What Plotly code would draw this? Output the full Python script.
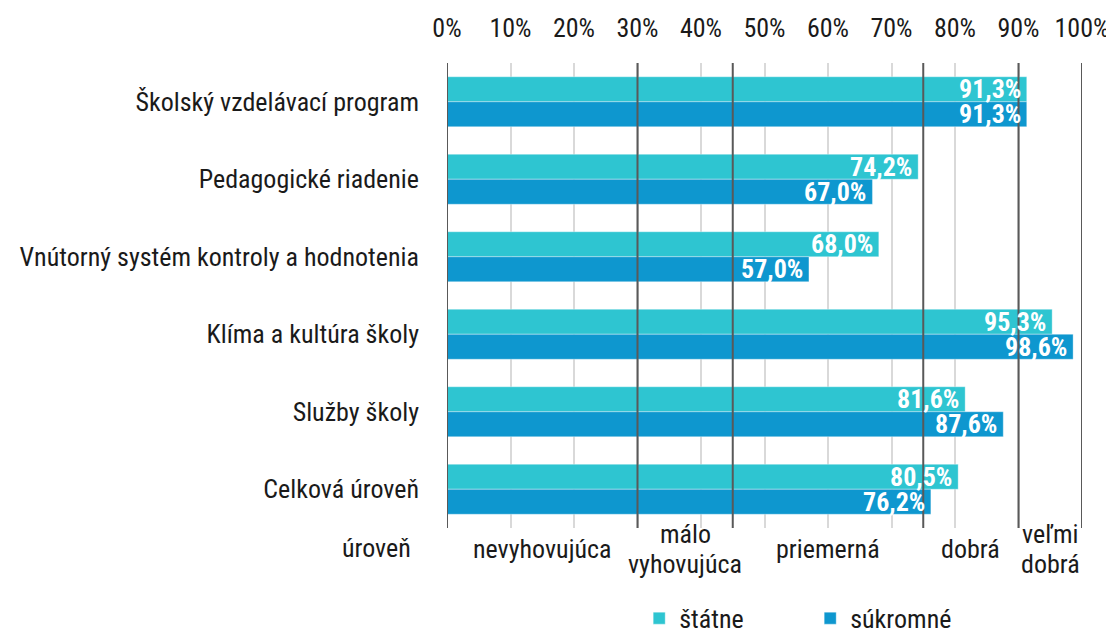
import plotly.graph_objects as go

categories = ["Školský vzdelávací program", "Pedagogické riadenie",
              "Vnútorný systém kontroly a hodnotenia", "Klíma a kultúra školy",
              "Služby školy", "Celková úroveň"]
statne = [91.3, 74.2, 68.0, 95.3, 81.6, 80.5]
sukromne = [91.3, 67.0, 57.0, 98.6, 87.6, 76.2]
series_names = ["štátne", "súkromné"]
tick_vals = [0, 10, 20, 30, 40, 50, 60, 70, 80, 90, 100]
tick_text = [f"{v}%" for v in tick_vals]
level_bounds = [0, 30, 45, 75, 90, 100]
level_names = ["nevyhovujúca", "málo<br>vyhovujúca", "priemerná", "dobrá", "veľmi<br>dobrá"]
level_title = "úroveň"

FONT = "Roboto Condensed, Liberation Sans Narrow, Roboto, sans-serif"
FS = 26
TEAL = "#2EC5D1"
BLUE = "#0E97CF"
TXT = "#1a1a1a"
LINE_H = 30


def fmt(v):
    return f"{v:.1f}%".replace(".", ",")


fig = go.Figure()
series = [(series_names[0], statne, TEAL, 12.5), (series_names[1], sukromne, BLUE, -12.5)]
for name, vals, col, _ in series:
    fig.add_trace(go.Bar(
        y=categories, x=vals, name=name, orientation="h",
        marker=dict(color=col, line=dict(color="rgba(255,255,255,0.35)", width=1)),
        textposition="none",
    ))

for b in level_bounds:
    fig.add_shape(type="line", xref="x", yref="paper", x0=b, x1=b, y0=0, y1=1,
                  line=dict(color="#595959", width=2), layer="above")

# value labels inside the bar ends
for name, vals, col, dy in series:
    for cat, v in zip(categories, vals):
        fig.add_annotation(x=v, xref="x", y=cat, yref="y", text=fmt(v),
                           showarrow=False, xanchor="right", yanchor="middle",
                           xshift=-4, yshift=dy,
                           font=dict(family=FONT, size=FS, color="white", weight="bold"))

for i, name in enumerate(level_names):
    mid = (level_bounds[i] + level_bounds[i + 1]) / 2
    lines = name.split("<br>")
    n = len(lines)
    for j, line in enumerate(lines):
        shift = ((n - 1) / 2 - j) * LINE_H
        fig.add_annotation(x=mid, xref="x", y=-0.045, yref="paper", text=line,
                           showarrow=False, yanchor="middle", align="center",
                           yshift=shift,
                           font=dict(family=FONT, size=FS, color=TXT))
fig.add_annotation(x=-0.053, xref="paper", y=-0.043, yref="paper", text=level_title,
                   showarrow=False, yanchor="middle", xanchor="right",
                   font=dict(family=FONT, size=FS, color=TXT))

fig.update_layout(
    width=1114, height=637,
    margin=dict(l=439, r=40, t=55, b=117),
    paper_bgcolor="white", plot_bgcolor="white",
    barmode="group", bargap=0.355, bargroupgap=0,
    font=dict(family=FONT, size=FS, color=TXT),
    xaxis=dict(range=[0, 100], side="top", tickvals=tick_vals, ticktext=tick_text,
               showgrid=True, gridcolor="#D9D9D9", gridwidth=2, zeroline=False,
               showline=False, ticks="", ticklabelstandoff=20, automargin=False,
               tickfont=dict(family=FONT, size=FS, color=TXT), fixedrange=True),
    yaxis=dict(autorange="reversed", showgrid=False, ticks="", ticklabelstandoff=27,
               automargin=False, tickfont=dict(family=FONT, size=FS, color=TXT)),
    legend=dict(orientation="h", xref="container", yref="container",
                x=0.5666, xanchor="left", y=0.042, yanchor="middle",
                entrywidth=126, entrywidthmode="pixels",
                font=dict(family=FONT, size=FS, color=TXT)),
    showlegend=True,
)

fig.write_html("out.html")
